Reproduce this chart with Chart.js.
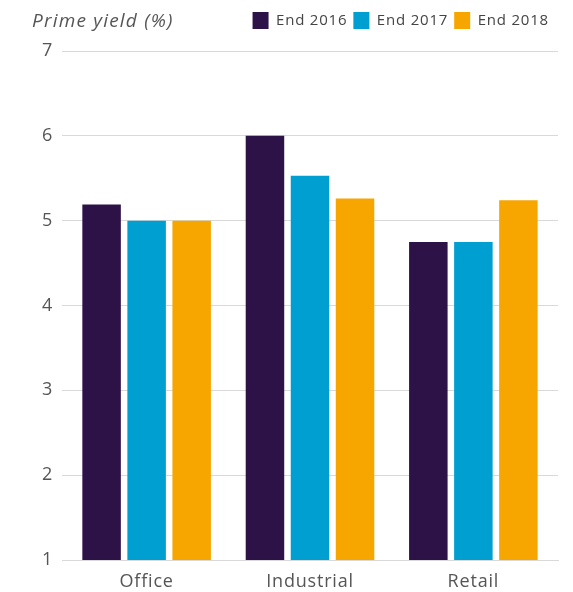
<!DOCTYPE html>
<html>
<head>
<meta charset="utf-8">
<script src="https://cdn.jsdelivr.net/npm/chart.js@4/dist/chart.umd.min.js"></script>
<style>
  html, body { margin: 0; padding: 0; background: #fff; }
  #wrap { position: relative; width: 573px; height: 592px; }
  #ytitle { position: absolute; left: 32px; top: 7px; font-family: "Open Sans", sans-serif; font-style: italic; font-size: 19px; letter-spacing: 1.2px; color: #555; }
</style>
</head>
<body>
<div id="wrap">
  <div id="ytitle">Prime yield (%)</div>
  <canvas id="c" width="573" height="592"></canvas>
</div>
<script>
const categories = ["Office", "Industrial", "Retail"];
const seriesNames = ["End 2016", "End 2017", "End 2018"];
const end2016 = [5.19, 6.0, 4.75];
const end2017 = [5.0, 5.53, 4.75];
const end2018 = [5.0, 5.26, 5.24];
const yTicks = [1, 2, 3, 4, 5, 6, 7];

const colors = ["#2d1248", "#009fd1", "#f7a600"];
const font = "'Open Sans', sans-serif";
const spacing = "0.8px";

const layoutTweaks = {
  id: "layoutTweaks",
  beforeInit(chart) {
    const origFit = chart.legend.fit;
    chart.legend.fit = function () {
      origFit.bind(chart.legend)();
      this.height += 12;
    };
  },
  beforeLayout(chart) { chart.ctx.letterSpacing = spacing; },
  afterLayout(chart) {
    // small inner margin on the category axis so bar groups sit slightly inside the gridline span
    const s = chart.scales.x;
    const e = 0.018;
    s._startValue -= e;
    s._valueRange += 2 * e;
    chart.legend.right -= 3;
  },
  beforeDraw(chart) { chart.ctx.letterSpacing = spacing; }
};

new Chart(document.getElementById("c"), {
  type: "bar",
  data: {
    labels: categories,
    datasets: [end2016, end2017, end2018].map((d, i) => ({
      label: seriesNames[i],
      data: d,
      backgroundColor: colors[i],
      borderWidth: 0,
      barPercentage: 0.855,
      categoryPercentage: 0.827
    }))
  },
  plugins: [layoutTweaks],
  options: {
    responsive: false,
    animation: false,
    layout: { padding: { left: 0, right: 15, top: 6, bottom: 0 } },
    plugins: {
      tooltip: { enabled: false },
      legend: {
        position: "top",
        align: "end",
        labels: {
          boxWidth: 16,
          boxHeight: 17,
          padding: 6,
          color: "#444",
          font: { family: font, size: 15 }
        }
      }
    },
    scales: {
      x: {
        grid: { display: false, drawTicks: false },
        border: { display: true, color: "#d9d9d9", width: 1 },
        ticks: { color: "#555", font: { family: font, size: 18 }, padding: 11 },
        afterFit(scale) { scale.height = 32; }
      },
      y: {
        min: 1,
        max: 7,
        afterBuildTicks: (axis) => { axis.ticks = yTicks.map(v => ({ value: v })); },
        grid: { color: "#d9d9d9", drawTicks: false, lineWidth: 1 },
        border: { display: false },
        ticks: { color: "#555", font: { family: font, size: 18 }, padding: 9 },
        afterFit(scale) { scale.width = 62; }
      }
    }
  }
});
</script>
</body>
</html>
